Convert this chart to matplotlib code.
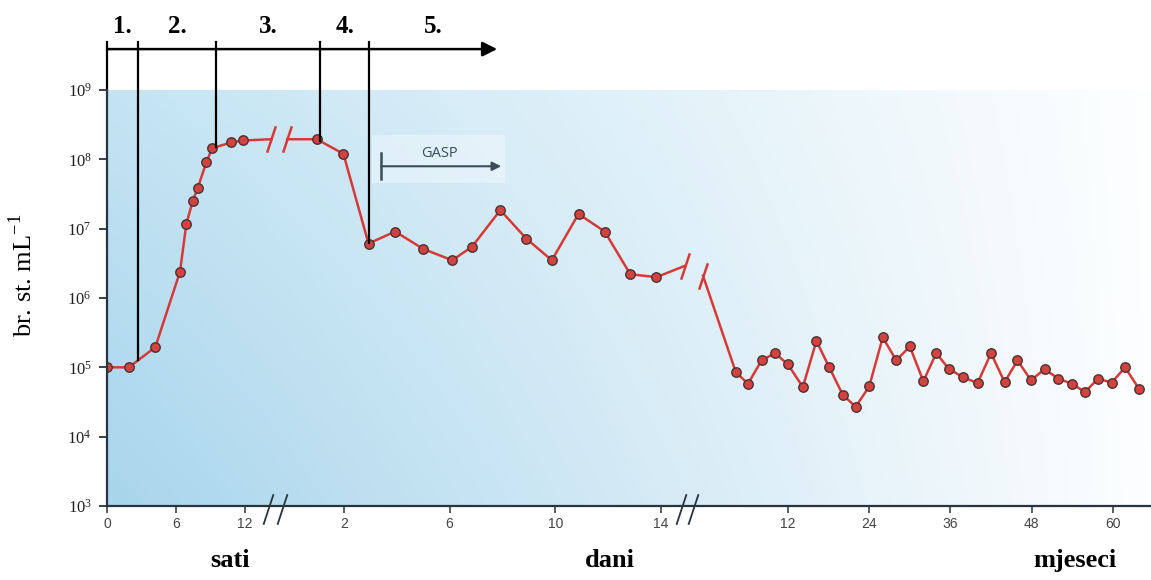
import numpy as np
import matplotlib
matplotlib.use("Agg")
import matplotlib.pyplot as plt
from matplotlib.path import Path
import matplotlib.transforms as mtransforms

# ---------------- data ----------------
hours_t = [0, 1.9, 4.2, 6.35, 6.9, 7.45, 7.9, 8.65, 9.15, 10.8, 11.8]
hours_v = [1.0e5, 1.0e5, 1.95e5, 2.4e6, 1.17e7, 2.5e7, 3.9e7, 9.2e7, 1.45e8, 1.75e8, 1.87e8]
hours_end_t = 14.3
hours_end_v = 1.95e8

days_start_t = -0.15
days_start_v = 1.95e8
days_t = [0.97, 1.98, 2.93, 3.94, 5.0, 6.1, 6.85, 7.92, 8.9, 9.87, 10.88, 11.87, 12.84, 13.83]
days_v = [1.95e8, 1.2e8, 6.1e6, 9.1e6, 5.1e6, 3.5e6, 5.5e6, 1.85e7, 7.2e6, 3.5e6,
          1.63e7, 9.1e6, 2.2e6, 2.0e6]
days_end_t = 14.9
days_end_v = 2.9e6

months_start_t = -0.55
months_start_v = 2.1e6
months_t = [4.3, 6.1, 8.1, 10.1, 12, 14.2, 16.2, 18.1, 20.1, 22, 24, 26, 28, 30, 32, 33.9,
            35.8, 37.9, 40, 42, 44, 45.9, 47.9, 49.9, 51.9, 53.9, 55.9, 57.8, 59.8, 61.8, 63.9]
months_v = [8.5e4, 5.8e4, 1.26e5, 1.6e5, 1.1e5, 5.2e4, 2.4e5, 1.0e5, 4.0e4, 2.7e4, 5.3e4,
            2.7e5, 1.26e5, 2.0e5, 6.3e4, 1.6e5, 9.4e4, 7.2e4, 5.9e4, 1.6e5, 6.1e4, 1.26e5,
            6.5e4, 9.4e4, 6.9e4, 5.8e4, 4.4e4, 6.9e4, 6.0e4, 1.0e5, 4.8e4]

hour_ticks = [0, 6, 12]
day_ticks = [2, 6, 10, 14]
month_ticks = [12, 24, 36, 48, 60]
y_ticks = [1e3, 1e4, 1e5, 1e6, 1e7, 1e8, 1e9]

# phase boundaries (segment, time) and labels
phase_bounds = [("h", 0), ("h", 2.7), ("h", 9.5), ("d", 1.09), ("d", 2.96)]
phase_arrow_end = ("d", 7.8)
phase_labels = ["1.", "2.", "3.", "4.", "5."]
unit_labels = ["sati", "dani", "mjeseci"]


# ---------------- broken time axis mapping ----------------
def pos_h(t):
    return np.asarray(t, dtype=float)


def pos_d(t):
    return 16.01 + 2.297 * np.asarray(t, dtype=float)


def pos_m(t):
    return 52.15 + 0.5887 * np.asarray(t, dtype=float)


POS = {"h": pos_h, "d": pos_d, "m": pos_m}

LINE_C = "#d63a36"
FACE_C = "#d4423e"
EDGE_C = "#4a3236"
AX_C = "#28343e"

fig = plt.figure(figsize=(11.51, 5.80), dpi=100)
ax = fig.add_axes([107 / 1151, 74 / 580, 1044 / 1151, 416 / 580])
ax.set_yscale("log")
ax.set_ylim(1e3, 1e9)
ax.set_xlim(0, 1044 / 11.5)

# gradient background
W, H = 500, 200
fx = np.linspace(0, 1, W)[None, :, None]
fy = np.linspace(0, 1, H)[:, None, None]
top_c = np.array([196, 228, 243]) / 255
bot_c = np.array([168, 213, 236]) / 255
left = top_c * (1 - fy) + bot_c * fy
img = left + (1 - left) * (fx * 0.98)
ax.imshow(img, extent=[0, 1, 0, 1], transform=ax.transAxes, aspect="auto",
          zorder=0, interpolation="bilinear")

# segments
seg_x = [
    np.concatenate([pos_h(hours_t), pos_h([hours_end_t])]),
    np.concatenate([pos_d([days_start_t]), pos_d(days_t), pos_d([days_end_t])]),
    np.concatenate([pos_m([months_start_t]), pos_m(months_t)]),
]
seg_y = [
    np.array(hours_v + [hours_end_v]),
    np.array([days_start_v] + days_v + [days_end_v]),
    np.array([months_start_v] + months_v),
]
for sx, sy in zip(seg_x, seg_y):
    ax.plot(sx, sy, color=LINE_C, lw=1.8, zorder=3, solid_joinstyle="round")

mk = dict(ls="none", marker="o", ms=6.8, mfc=FACE_C, mec=EDGE_C, mew=1.0, zorder=4)
ax.plot(pos_h(hours_t), hours_v, **mk)
ax.plot(pos_d(days_t), days_v, **mk)
ax.plot(pos_m(months_t), months_v, **mk)

# break slashes on the curve
slash = Path([(-0.33, -1), (0.33, 1)], [Path.MOVETO, Path.LINETO])
ends = [(seg_x[0][-1], seg_y[0][-1]), (seg_x[1][0], seg_y[1][0]),
        (seg_x[1][-1], seg_y[1][-1]), (seg_x[2][0], seg_y[2][0])]
for ex, ey in ends:
    ax.plot([ex], [ey], ls="none", marker=slash, ms=19, mec=LINE_C, mew=1.8, zorder=3)

# break slashes on the x axis
bt = mtransforms.blended_transform_factory(ax.transData, ax.transAxes)
for bx in [pos_h(14.04), pos_h(15.18), pos_d(14.75), pos_d(15.23)]:
    ax.plot([bx], [-0.008], ls="none", marker=slash, ms=22, mec=AX_C, mew=1.3,
            transform=bt, clip_on=False, zorder=5)

# axes styling
for s in ["top", "right"]:
    ax.spines[s].set_visible(False)
for s in ["left", "bottom"]:
    ax.spines[s].set_color(AX_C)
    ax.spines[s].set_linewidth(1.6)
    ax.spines[s].set_zorder(5)

ax.set_yticks(y_ticks)
ax.set_yticklabels([r"$\mathregular{10^{%d}}$" % int(np.log10(v)) for v in y_ticks],
                   fontfamily="Liberation Serif", fontsize=12, color="#222222")
ax.yaxis.set_minor_locator(matplotlib.ticker.NullLocator())
ax.tick_params(axis="y", direction="out", length=6, width=1.3, color=AX_C, pad=5)

xt = list(pos_h(hour_ticks)) + list(pos_d(day_ticks)) + list(pos_m(month_ticks))
xl = [str(v) for v in hour_ticks + day_ticks + month_ticks]
ax.set_xticks(xt)
ax.set_xticklabels(xl, fontfamily="Liberation Sans", fontsize=10, color="#444444")
ax.tick_params(axis="x", direction="out", length=5, width=1.1, color=AX_C, pad=3)

ax.set_ylabel(r"br. st. mL$^{\mathregular{-1}}$", fontfamily="Liberation Serif",
              fontsize=19)
ax.yaxis.set_label_coords(-0.067, 0.555)

# unit labels under the axis
unit_pos = [pos_h(10.7), pos_d(12.07), pos_m(54.4)]
for lab, ux in zip(unit_labels, unit_pos):
    ax.text(ux, -0.13, lab, transform=bt, ha="center", va="center",
            fontfamily="Liberation Serif", fontweight="bold", fontsize=19)

# phase lines
all_x = np.concatenate(seg_x)
all_ly = np.log10(np.concatenate(seg_y))
y_arr = 10 ** 9.59
y_top = 10 ** 9.69
bx_list = [POS[s](t) for s, t in phase_bounds]
for i, px in enumerate(bx_list):
    low = 1e9 if i == 0 else 10 ** np.interp(px, all_x, all_ly)
    ax.plot([px, px], [low, y_top], color="black", lw=1.6, clip_on=False, zorder=5)
x_end = POS[phase_arrow_end[0]](phase_arrow_end[1])
ax.annotate("", xy=(x_end, y_arr), xytext=(bx_list[0], y_arr),
            arrowprops=dict(arrowstyle="-|>", color="black", lw=1.8, mutation_scale=22,
                            shrinkA=0, shrinkB=0),
            annotation_clip=False, zorder=5)
edges = bx_list + [x_end]
for i, lab in enumerate(phase_labels):
    cx = 0.5 * (edges[i] + edges[i + 1])
    ax.text(cx, 10 ** 9.92, lab, ha="center", va="center", fontfamily="Liberation Serif",
            fontweight="bold", fontsize=18, clip_on=False)

# GASP annotation
GC = "#3b4d5a"
ax.fill_between([pos_d(3.06), pos_d(8.09)], 10 ** 7.66, 10 ** 8.35, color="white",
                alpha=0.35, lw=0, zorder=2)
ax.text(pos_d(5.63), 10 ** 8.09, "GASP", ha="center", va="center", fontfamily="Open Sans",
        fontsize=10.5, color=GC, zorder=5)
ax.plot([pos_d(3.4), pos_d(3.4)], [10 ** 7.72, 10 ** 8.09], color=GC, lw=1.8, zorder=5)
ax.annotate("", xy=(pos_d(7.95), 10 ** 7.9), xytext=(pos_d(3.4), 10 ** 7.9),
            arrowprops=dict(arrowstyle="-|>", color=GC, lw=1.5, mutation_scale=13,
                            shrinkA=0, shrinkB=0), zorder=5)

fig.savefig("out.png", dpi=100, facecolor="white")
